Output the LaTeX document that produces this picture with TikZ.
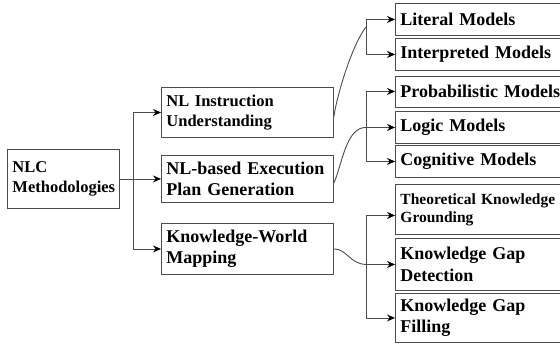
\documentclass[tikz,border=0pt]{standalone}
\usepackage{fontspec}
\setmainfont{Liberation Serif}
\usetikzlibrary{arrows.meta}
\tikzstyle{cbox}=[draw=black!70, line width=0.9pt, anchor=north west, align=left, inner xsep=5pt, inner ysep=0pt]
\tikzstyle{fbig}=[font=\bfseries\fontsize{18}{21.5}\selectfont]
\tikzstyle{fmid}=[font=\bfseries\fontsize{16.5}{20}\selectfont]
\tikzstyle{fsml}=[font=\bfseries\fontsize{15.5}{18}\selectfont]
\tikzstyle{link}=[draw=black!70, line width=0.9pt]
\tikzstyle{arr}=[link, -{Stealth[length=8pt,width=7pt,black]}]

\begin{document}
\begin{tikzpicture}[x=1pt, y=-1pt]
\useasboundingbox (0,0) rectangle (560,343);

% root
\node[cbox, fmid, text width=102pt, minimum height=59pt] (nlc) at (7,149) {NLC\\\mbox{Methodologies}};

% second level
\node[cbox, fmid, text width=162pt, minimum height=50pt] (ins) at (161,87) {NL Instruction\\Understanding};
\node[cbox, fbig, text width=162pt, minimum height=47pt] (plan) at (161,155) {\mbox{NL-based Execution}\\Plan Generation};
\node[cbox, fbig, text width=162pt, minimum height=51pt] (kwm) at (161,223) {Knowledge-World\\Mapping};

% leaves
\node[cbox, fbig, text width=154.5pt, minimum height=32pt] (lit) at (395,3) {Literal Models};
\node[cbox, fbig, text width=154.5pt, minimum height=32pt] (int) at (395,38) {\mbox{Interpreted Models}};
\node[cbox, fbig, text width=154.5pt, minimum height=31pt] (prob) at (395,75.5) {\mbox{Probabilistic Models}};
\node[cbox, fbig, text width=154.5pt, minimum height=32pt] (logic) at (395,111) {Logic Models};
\node[cbox, fbig, text width=154.5pt, minimum height=32pt] (cog) at (395,145) {Cognitive Models};
\node[cbox, fsml, text width=154.5pt, minimum height=50pt] (theo) at (395,184) {\mbox{Theoretical Knowledge}\\Grounding};
\node[cbox, fbig, text width=154.5pt, minimum height=52pt] (det) at (395,238) {Knowledge Gap\\Detection};
\node[cbox, fbig, text width=154.5pt, minimum height=49pt] (fill) at (395,293) {Knowledge Gap\\Filling};

% junctions
\path (nlc.east) ++(14,0) coordinate (s0);
\coordinate (s1) at (366,27);
\path (logic.west) ++(-29,0) coordinate (s2);
\path (det.west) ++(-29,0) coordinate (s3);

% root -> second level
\draw[link] (nlc.east) -- (s0);
\draw[arr] (s0) |- (ins.west);
\draw[arr] (s0) -- (plan.west);
\draw[arr] (s0) |- (kwm.west);

% second level -> leaves
\draw[link] ([yshift=-4pt]ins.east) .. controls (337,95) and (352,45) .. (s1);
\draw[arr] (s1) |- (lit.west);
\draw[arr] (s1) |- (int.west);

\draw[link] ([yshift=-4pt]plan.east) .. controls (342,165) and (346,127) .. (s2);
\draw[arr] (s2) |- (prob.west);
\draw[arr] (s2) -- (logic.west);
\draw[arr] (s2) |- (cog.west);

\draw[link] (kwm.east) .. controls (347,249) and (350,264) .. (s3);
\draw[arr] (s3) |- ([yshift=-6pt]theo.west);
\draw[arr] (s3) -- (det.west);
\draw[arr] (s3) |- (fill.west);

\end{tikzpicture}
\end{document}
